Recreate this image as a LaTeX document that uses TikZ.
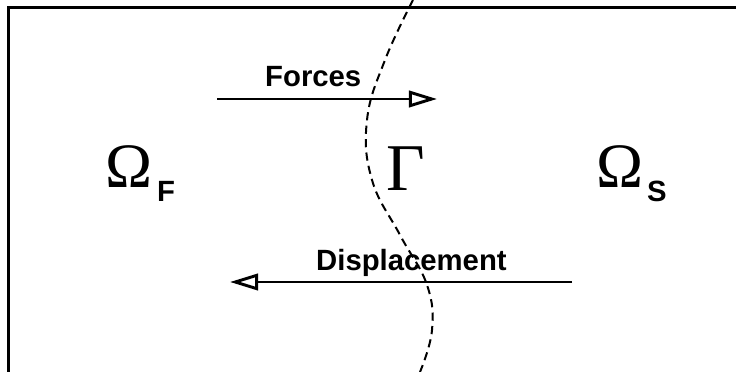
\documentclass[tikz,border=0pt]{standalone}
\usepackage{fontspec}
\setmainfont{Liberation Sans}
\newfontfamily\greekfont{Liberation Serif}
\usetikzlibrary{arrows.meta}

\begin{document}
\begin{tikzpicture}[x=0.03cm,y=-0.03cm,
  flow/.style={line width=2.5pt,-{Triangle[open,length=24pt,width=14pt]}},
  lab/.style={anchor=base west,inner sep=0pt,font=\fontsize{25}{29}\selectfont\bfseries},
  greek/.style={anchor=base west,inner sep=0pt,font=\fontsize{54}{60}\selectfont\greekfont},
  sub/.style={anchor=base west,inner sep=0pt,font=\fontsize{25}{30}\selectfont\bfseries}]
\useasboundingbox (0,0) rectangle (736,372);
\clip (0,0) rectangle (736,372);
\draw[line width=2.6pt] (8.5,7.5) rectangle (800,420);

% interface
\draw[line width=1.7pt,dash pattern=on 7pt off 4.5pt]
  plot[smooth,tension=0.7] coordinates {(413,0) (385,60) (367,120)
  (372,180) (400,235) (427,285) (432,330) (420,372)};

\node[greek] (OmF) at (105,188) {Ω};
\node[sub] (subF) at (157,202) {F};
\node[greek,font=\fontsize{57}{63}\selectfont\greekfont] (Gam) at (386,191) {Γ};
\node[greek] (OmS) at (596,188) {Ω};
\node[sub] (subS) at (647,202) {S};

\coordinate (FL) at (217,99);
\coordinate (FR) at (437,99);
\coordinate (DR) at (572,282);
\coordinate (DL) at (230,282);
\node[lab] (forces) at (265,87) {Forces};
\node[lab] (displ) at (316,270) {Displacement};

\draw[flow] (FL) to (FR);
\draw[flow] (DR) to (DL);
\end{tikzpicture}
\end{document}
